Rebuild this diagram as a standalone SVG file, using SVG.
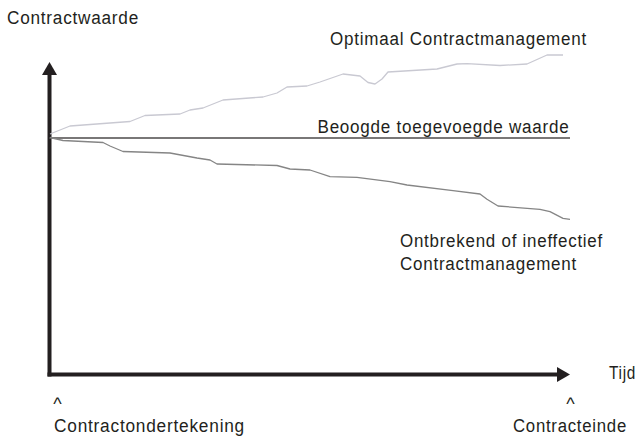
<svg xmlns="http://www.w3.org/2000/svg" width="639" height="439" viewBox="0 0 639 439">
  <defs>
    <marker id="arrowhead" markerUnits="userSpaceOnUse" markerWidth="14" markerHeight="16" refX="0" refY="7.5" orient="auto">
      <path d="M0,0 L13,7.5 L0,15 Z" fill="#231f20"/>
    </marker>
    <style>
      text { font-family: "Liberation Sans", Arial, sans-serif; font-size: 18px; letter-spacing: 0.8px; fill: #231f20; }
      .caret { letter-spacing: 0; }
      .axis { stroke: #231f20; stroke-width: 4; fill: none; }
      .curve { fill: none; stroke-width: 1.3; stroke-linejoin: round; }
    </style>
  </defs>

  <rect width="639" height="439" fill="#ffffff"/>

  <!-- value / time axes -->
  <g id="axes">
    <line class="axis" x1="49.5" y1="376.5" x2="49.5" y2="75" marker-end="url(#arrowhead)"/>
    <line class="axis" x1="47.5" y1="374.5" x2="557" y2="374.5" marker-end="url(#arrowhead)"/>
  </g>

  <!-- value curves -->
  <g id="connectors">
    <polyline id="optimal-curve" class="curve" stroke="#c9c9d2"
      points="50,134 70,126 130,121.5 145,115.5 180,114 190,110 203,108 223,100 263,97 277,93 287,87 307,86 320,82 343,74 360,76 368,82.5 375,84 382,79 388,72 437,69 457,64 467,63.7 500,65.5 527,64 547,55 563,55"/>
    <line id="target-line" x1="49" y1="138" x2="570" y2="138" stroke="#4d4a4a" stroke-width="1.6"/>
    <polyline id="lacking-curve" class="curve" stroke="#858585"
      points="50,137.5 63,140.5 103,142.5 110,146 123,151.5 170,153 197,158 210,160 217,164 277,165.5 290,169 310,170 330,176.7 357,177.3 390,181.7 407,185 453,190.7 480,194 487,199.3 498,206 540,209.3 550,211.7 563,218.3 570,219.3"/>
  </g>

  <g id="label-value">
    <text x="7" y="24" textLength="132" lengthAdjust="spacingAndGlyphs">Contractwaarde</text>
  </g>
  <g id="label-optimal">
    <text x="330" y="45" textLength="257" lengthAdjust="spacingAndGlyphs">Optimaal Contractmanagement</text>
  </g>
  <g id="label-target">
    <text x="317.5" y="133" textLength="252" lengthAdjust="spacingAndGlyphs">Beoogde toegevoegde waarde</text>
  </g>
  <g id="label-lacking">
    <text x="400" y="247" textLength="203" lengthAdjust="spacingAndGlyphs">Ontbrekend of ineffectief</text>
    <text x="400" y="270" textLength="177" lengthAdjust="spacingAndGlyphs">Contractmanagement</text>
  </g>
  <g id="label-time">
    <text x="609" y="379" textLength="27" lengthAdjust="spacingAndGlyphs">Tijd</text>
  </g>
  <g id="label-start">
    <text class="caret" x="57.5" y="410" text-anchor="middle">^</text>
    <text x="54" y="432" textLength="191" lengthAdjust="spacingAndGlyphs">Contractondertekening</text>
  </g>
  <g id="label-end">
    <text class="caret" x="570.5" y="410" text-anchor="middle">^</text>
    <text x="513" y="432" textLength="114" lengthAdjust="spacingAndGlyphs">Contracteinde</text>
  </g>
</svg>
